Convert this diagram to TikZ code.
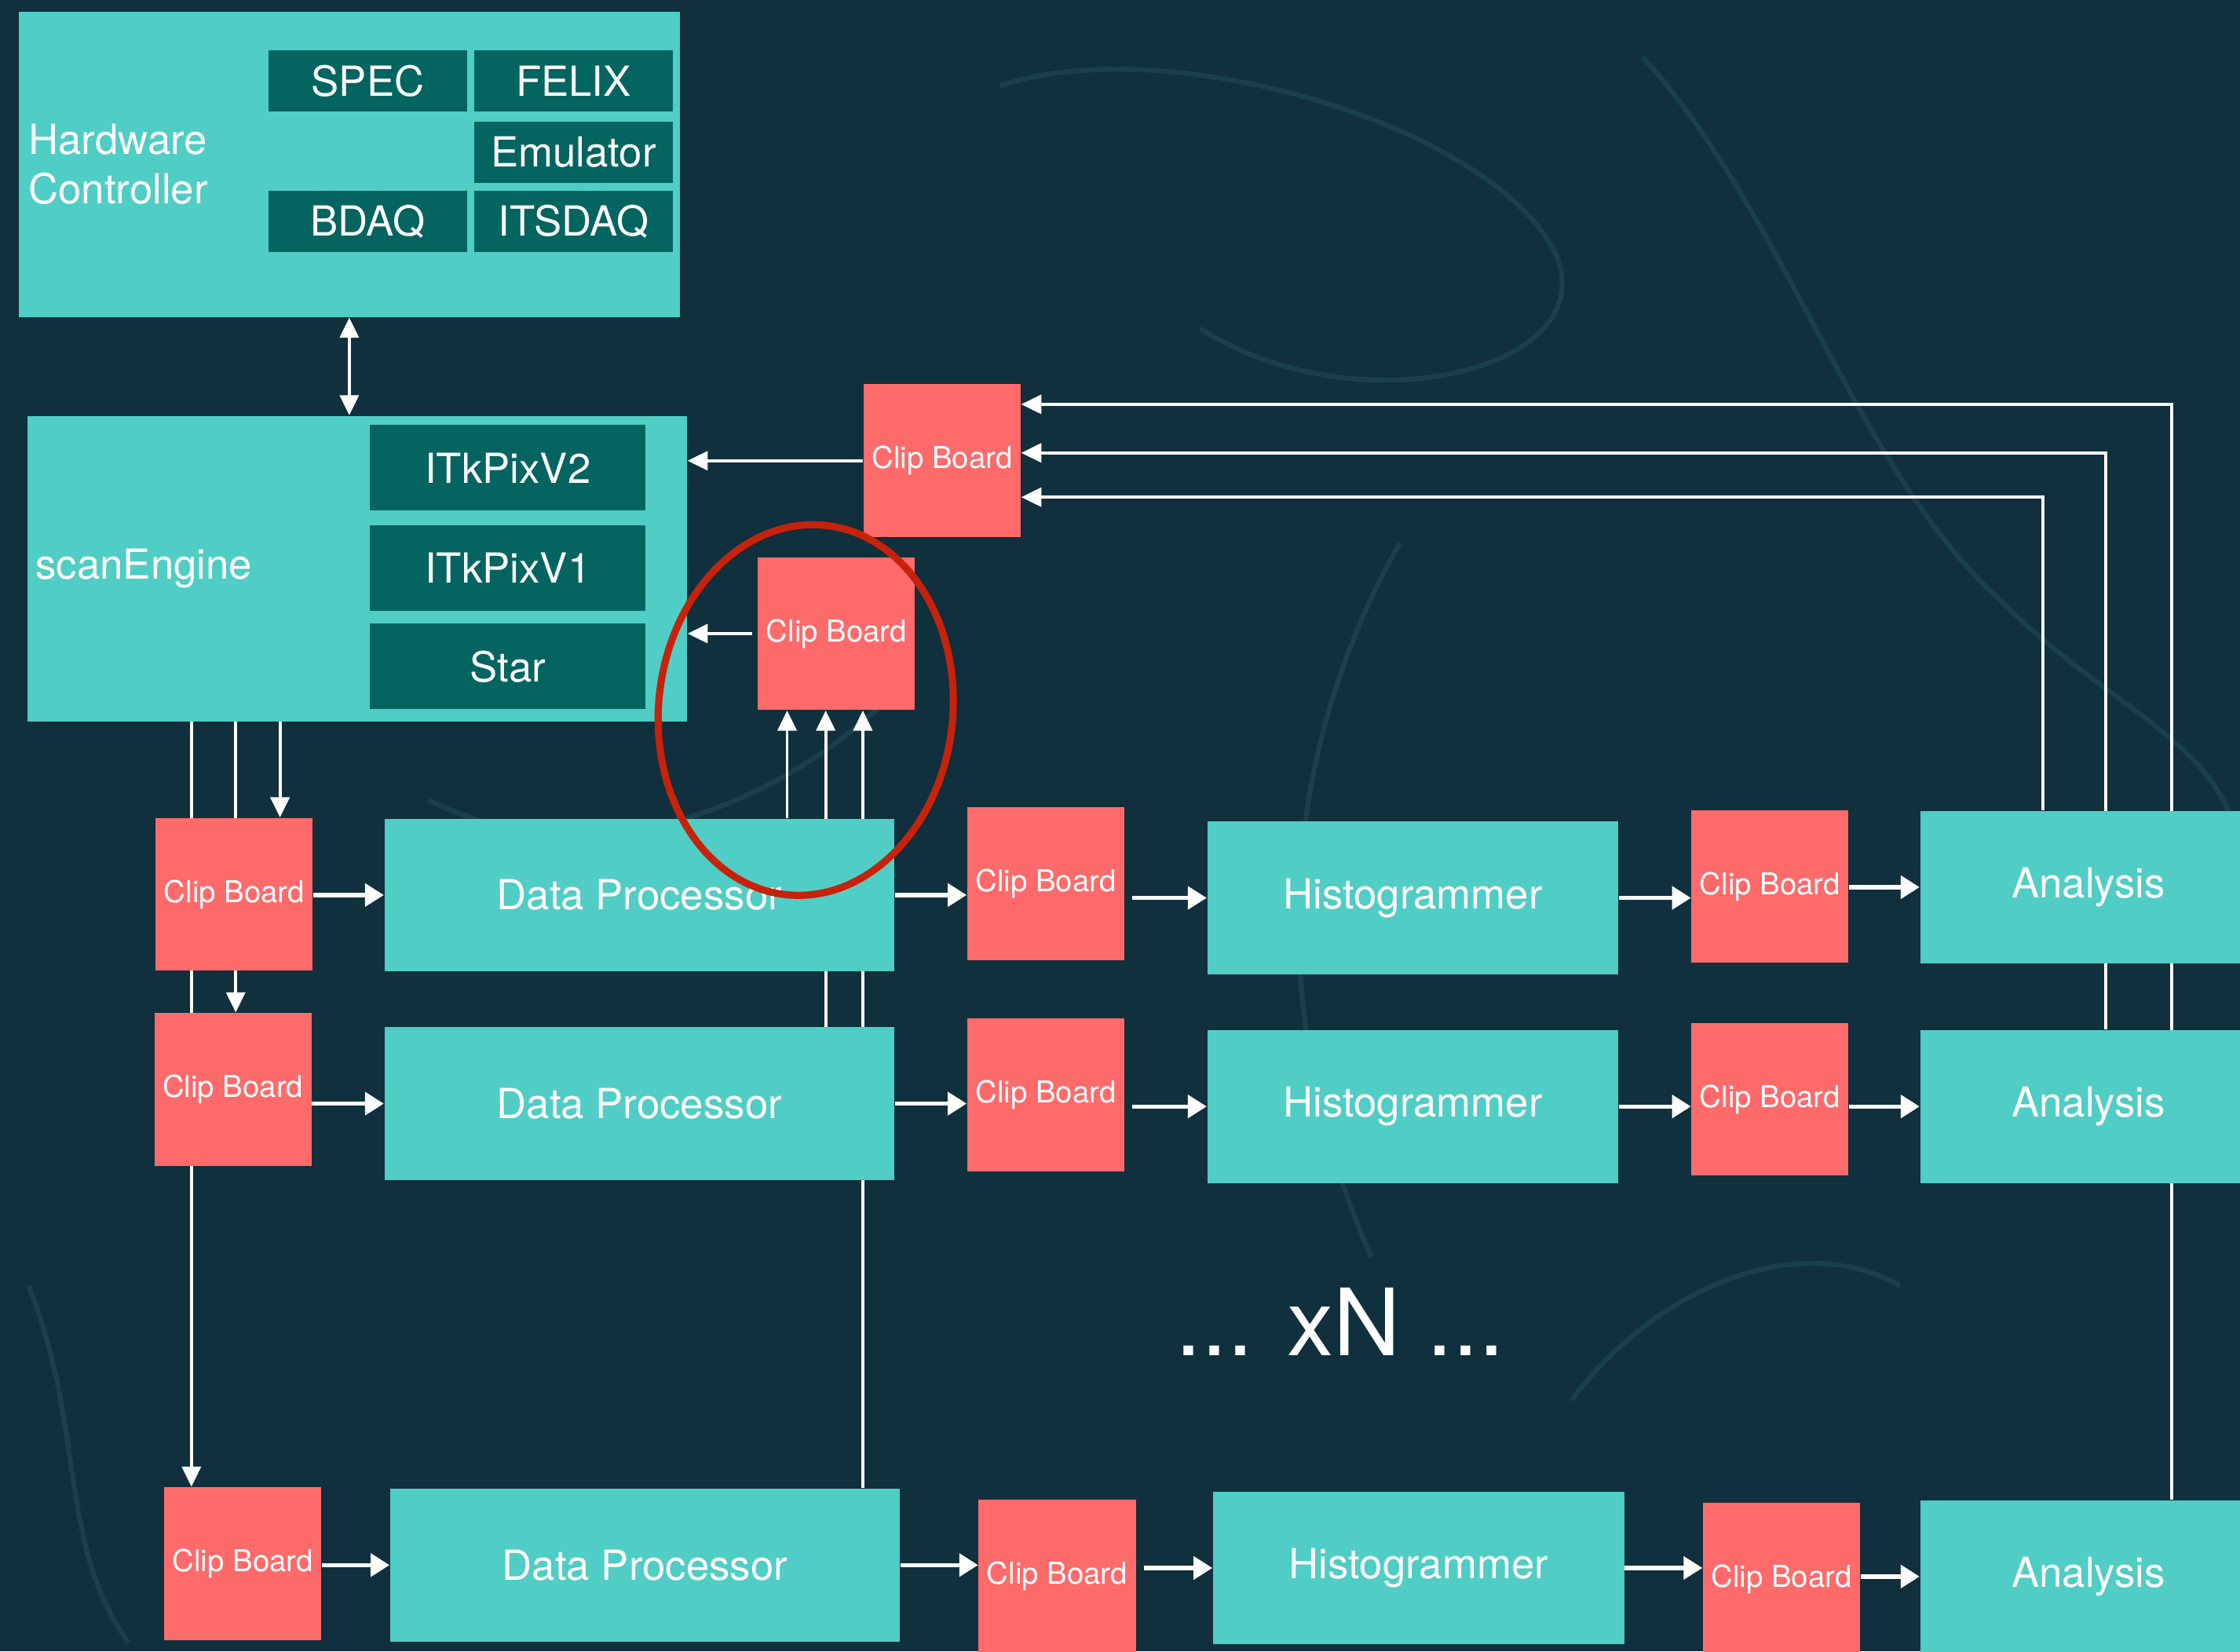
\documentclass[tikz,border=0pt]{standalone}
\usepackage{fontspec}
\setmainfont{TeX Gyre Heros}
\usetikzlibrary{arrows.meta,calc}

\definecolor{bgdark}{RGB}{15,48,60}
\definecolor{bgtrack}{RGB}{36,80,90}
\definecolor{boxteal}{RGB}{80,205,196}
\definecolor{chipteal}{RGB}{3,100,96}
\definecolor{clipred}{RGB}{255,106,106}
\definecolor{ringred}{RGB}{198,34,12}

\pgfdeclarelayer{background}
\pgfsetlayers{background,main}

\tikzset{
  block/.style={fill=boxteal, text=white, inner sep=0pt, font=\fontsize{16.5}{19.8}\selectfont},
  hwchip/.style={block, fill=chipteal, minimum width=2.78cm, minimum height=0.86cm},
  sechip/.style={block, fill=chipteal, minimum width=3.86cm, minimum height=1.2cm},
  clipboard/.style={fill=clipred, text=white, inner sep=0pt, minimum width=2.2cm,
    minimum height=2.14cm, font=\fontsize{12}{14}\selectfont},
  dpbox/.style={block, minimum width=7.14cm, minimum height=2.14cm},
  histbox/.style={block, minimum width=5.76cm, minimum height=2.14cm},
  anabox/.style={block, minimum width=4.72cm, minimum height=2.14cm},
  fat/.style={draw=white, line width=1.7pt, -{Triangle[length=7.5pt,width=9pt]}},
  wire/.style={draw=white, line width=1.2pt, -{Triangle[length=8pt,width=7.5pt]}},
}

\begin{document}
\begin{tikzpicture}[x=0.02cm, y=-0.02cm]
  \useasboundingbox (0,0) rectangle (1568,1156);
  \clip (0,0) rectangle (1568,1156);

  % Hardware controller
  \node[block, minimum width=9.26cm, minimum height=4.28cm] (hwc) at (244.5,115) {};
  \node[block, fill=none, anchor=west, align=left] (hwclbl) at ([xshift=0.14cm]hwc.west) {Hardware\\Controller};
  \node[hwchip] (spec) at (257.5,56.5) {SPEC};
  \node[hwchip] (felix) at (401.5,56.5) {FELIX};
  \node[hwchip] (emu) at (401.5,106.5) {Emulator};
  \node[hwchip] (bdaq) at (257.5,155) {BDAQ};
  \node[hwchip] (itsdaq) at (401.5,155) {ITSDAQ};

  % scanEngine
  \node[block, minimum width=9.24cm, minimum height=4.28cm] (se) at (250,398) {};
  \node[block, fill=none, anchor=west] (selbl) at ([xshift=0.12cm]se.west) {scanEngine};
  \node[sechip] (v2) at (355.5,327.5) {ITkPixV2};
  \node[sechip] (v1) at (355.5,397.5) {ITkPixV1};
  \node[sechip] (star) at (355.5,466.5) {Star};

  % Clip boards feeding back into the scanEngine
  \node[clipboard] (cbtop) at (659.5,322.5) {Clip Board};
  \node[clipboard] (cbmid) at (585.5,443.5) {Clip Board};

  % Processing chains
  \node[clipboard] (cba1) at (164,626) {Clip Board};
  \node[dpbox] (dp1) at (447.5,626.5) {Data Processor};
  \node[clipboard] (cbb1) at (732,618.5) {Clip Board};
  \node[histbox] (hist1) at (989,628.5) {Histogrammer};
  \node[clipboard] (cbc1) at (1239,620.5) {Clip Board};
  \node[anabox] (ana1) at (1462,621) {Analysis};

  \node[clipboard] (cba2) at (163,762.5) {Clip Board};
  \node[dpbox] (dp2) at (447.5,772.5) {Data Processor};
  \node[clipboard] (cbb2) at (732,766.5) {Clip Board};
  \node[histbox] (hist2) at (989,774.5) {Histogrammer};
  \node[clipboard] (cbc2) at (1239,769.5) {Clip Board};
  \node[anabox] (ana2) at (1462,774.5) {Analysis};

  \node[clipboard] (cba3) at (170,1094.5) {Clip Board};
  \node[dpbox] (dp3) at (451.5,1095.5) {Data Processor};
  \node[clipboard] (cbb3) at (740,1103) {Clip Board};
  \node[histbox] (hist3) at (993,1097.5) {Histogrammer};
  \node[clipboard] (cbc3) at (1247,1105.5) {Clip Board};
  \node[anabox] (ana3) at (1462,1103.5) {Analysis};

  \node[text=white, inner sep=0pt, font=\fontsize{37}{44}\selectfont] (xn) at (938,925) {... xN ...};

  % Arrows along each chain
  \foreach \r in {1,2,3} {
    \draw[fat] (dp\r.west -| cba\r.east) -- (dp\r.west);
    \draw[fat] (dp\r.east) -- (dp\r.east -| cbb\r.west);
    \draw[fat, shorten <=3pt] (hist\r.west -| cbb\r.east) -- (hist\r.west);
    \draw[fat] (hist\r.east) -- (hist\r.east -| cbc\r.west);
    \draw[fat] (ana\r.west -| cbc\r.east) -- (ana\r.west);
  }

  % Hardware controller <-> scanEngine, clip boards -> scanEngine
  \draw[wire, {Triangle[length=8pt,width=7.5pt]}-{Triangle[length=8pt,width=7.5pt]}]
    (hwc.south) -- (hwc.south |- se.north);
  \draw[wire] (cbtop.west) -- (cbtop.west -| se.east);
  \draw[wire, shorten <=2pt] (cbmid.west) -- (cbmid.west -| se.east);

  \begin{pgfonlayer}{background}
    \fill[bgdark] (0,0) rectangle (1568,1156);
    % faint tracks in the backdrop
    \begin{scope}[bgtrack, line width=2pt, opacity=0.5]
      \draw (700,60) .. controls (820,20) and (1050,90) .. (1090,180) .. controls (1120,260) and (950,300) .. (840,230);
      \draw (1150,40) .. controls (1250,150) and (1300,330) .. (1400,420) .. controls (1480,500) and (1560,520) .. (1568,600);
      \draw (300,560) .. controls (420,620) and (560,560) .. (640,470);
      \draw (980,380) .. controls (900,520) and (880,700) .. (960,880);
      \draw (1100,980) .. controls (1160,900) and (1260,860) .. (1330,900);
      \draw (20,900) .. controls (60,1000) and (40,1080) .. (90,1150);
    \end{scope}

    % scanEngine feeds the first clip board of every chain
    \coordinate (dnA) at ($(cba1.north)+(32,0)$);
    \coordinate (dnB) at ($(cba1.north)+(1,0)$);
    \coordinate (dnC) at ($(cba1.north)+(-30,0)$);
    \draw[wire] (se.south -| dnA) -- (cba1.north -| dnA);
    \draw[wire] (se.south -| dnB) -- (cba2.north -| dnB);
    \draw[wire] (se.south -| dnC) -- (cba3.north -| dnC);

    % data processors report to the circled clip board
    \coordinate (upA) at ($(cbmid.south)+(-34.5,0)$);
    \coordinate (upB) at ($(cbmid.south)+(-7.5,0)$);
    \coordinate (upC) at ($(cbmid.south)+(18.5,0)$);
    \draw[wire] (dp1.north -| upA) -- (upA);
    \draw[wire] (dp2.north -| upB) -- (upB);
    \draw[wire] (dp3.north -| upC) -- (upC);

    % analyses feed back to the top clip board
    \coordinate (fbA) at ($(ana1.north)+(-32,0)$);
    \coordinate (fbB) at ($(ana1.north)+(12,0)$);
    \coordinate (fbC) at ($(ana1.north)+(58,0)$);
    \draw[wire] (ana1.north -| fbA) |- ([yshift=-0.51cm]cbtop.east);
    \draw[wire] (ana2.north -| fbB) |- ([yshift=0.11cm]cbtop.east);
    \draw[wire] (ana3.north -| fbC) |- ([yshift=0.79cm]cbtop.east);
  \end{pgfonlayer}

  % Highlight
  \draw[ringred, line width=0.1cm, rotate around={-6:(564,497)}]
    (564,497) ellipse [x radius=2.06cm, y radius=2.6cm];

\end{tikzpicture}
\end{document}
